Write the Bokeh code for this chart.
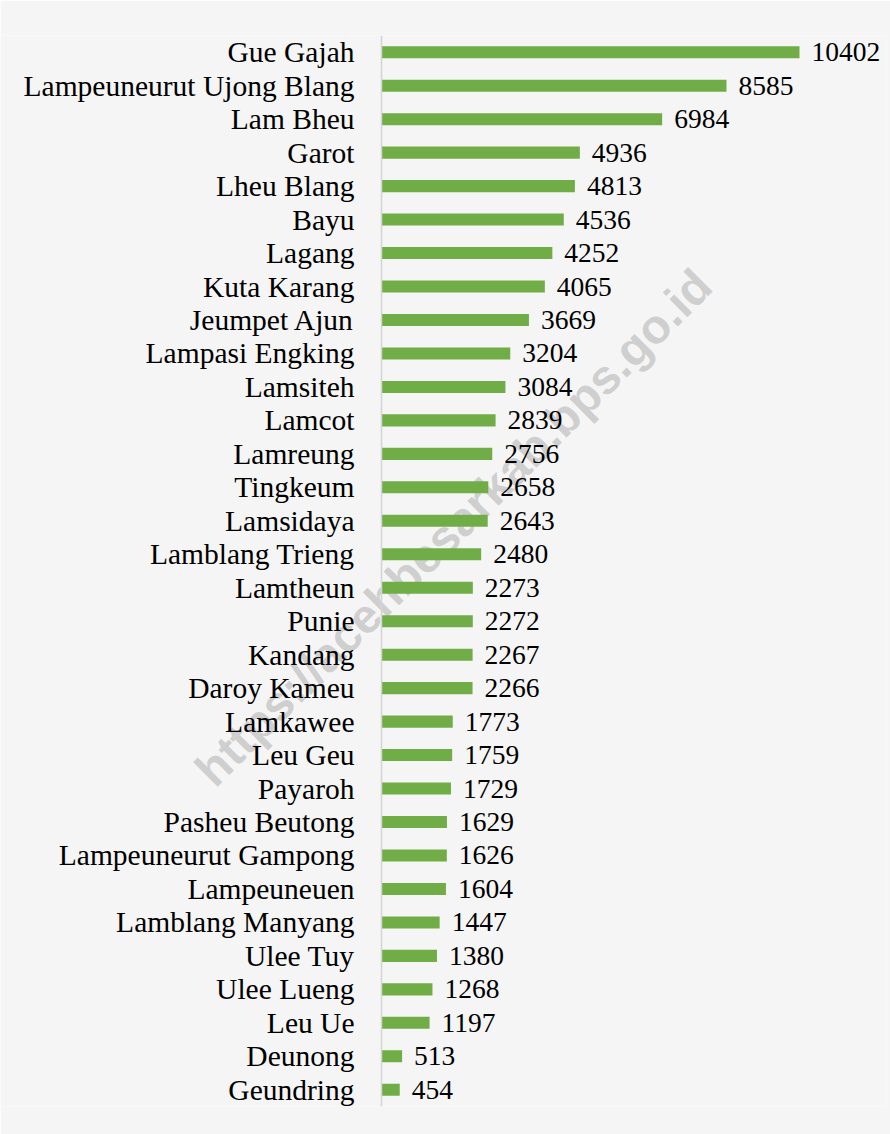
from bokeh.plotting import figure
from bokeh.models import FactorRange, ColumnDataSource, Range1d, Label, Span
from bokeh.core.properties import value
from bokeh.embed import file_html
from bokeh.resources import INLINE

villages = ["Gue Gajah", "Lampeuneurut Ujong Blang", "Lam Bheu", "Garot", "Lheu Blang",
            "Bayu", "Lagang", "Kuta Karang", "Jeumpet Ajun", "Lampasi Engking",
            "Lamsiteh", "Lamcot", "Lamreung", "Tingkeum", "Lamsidaya",
            "Lamblang Trieng", "Lamtheun", "Punie", "Kandang", "Daroy Kameu",
            "Lamkawee", "Leu Geu", "Payaroh", "Pasheu Beutong", "Lampeuneurut Gampong",
            "Lampeuneuen", "Lamblang Manyang", "Ulee Tuy", "Ulee Lueng", "Leu Ue",
            "Deunong", "Geundring"]
population = [10402, 8585, 6984, 4936, 4813, 4536, 4252, 4065, 3669, 3204,
              3084, 2839, 2756, 2658, 2643, 2480, 2273, 2272, 2267, 2266,
              1773, 1759, 1729, 1629, 1626, 1604, 1447, 1380, 1268, 1197,
              513, 454]
labels = [str(v) for v in population]

W, H = 890, 1134
axis_px = 381            # pixel position of the category axis
top, bottom, right = 35, 28, 5
scale = 418 / 10402      # px per unit
xmin = -axis_px / scale
xmax = (W - right - axis_px) / scale

src = ColumnDataSource(dict(y=villages, x=population, lab=labels,
                            zero=[0] * len(villages)))

p = figure(width=W, height=H, output_backend="svg", toolbar_location=None,
           y_range=FactorRange(*list(reversed(villages))),
           x_range=Range1d(xmin, xmax),
           min_border_left=0, min_border_right=right,
           min_border_top=top, min_border_bottom=bottom)

bg = "#F5F5F5"
p.background_fill_color = bg
p.border_fill_color = bg
p.outline_line_color = None
p.xgrid.visible = False
p.ygrid.visible = False
p.xaxis.visible = False
p.yaxis.visible = False

# watermark (behind everything)
wm = Label(x=453, y=H - 527 - bottom, x_units="screen", y_units="screen",
           text="https://acehbesarkab.bps.go.id", angle=45, angle_units="deg",
           text_align="center", text_baseline="middle",
           text_font="Liberation Sans", text_font_style="bold", text_font_size="48px",
           text_color="#A0A0A0", text_alpha=0.45, level="underlay")
p.add_layout(wm)

# category axis line
p.add_layout(Span(location=0, dimension="height", line_color="#D4D4D4", line_width=1.5))

# category labels
p.text(x="zero", y="y", text="y", source=src, x_offset=-27,
       text_align="right", text_baseline="middle",
       text_font=value("Liberation Serif"), text_font_size="29.5px",
       text_color="#000000")

p.hbar(y="y", right="x", left=0, height=0.36, source=src,
       fill_color="#70AD47", line_color=None)

p.text(x="x", y="y", text="lab", source=src, x_offset=12,
       text_align="left", text_baseline="middle",
       text_font=value("Liberation Serif"), text_font_size="27.5px",
       text_color="#000000")

open("out.html", "w").write(file_html(p, INLINE))
